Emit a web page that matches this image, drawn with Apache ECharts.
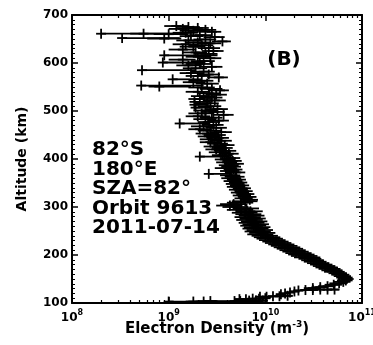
<!DOCTYPE html>
<html><head><meta charset="utf-8">
<script src="https://cdn.jsdelivr.net/npm/echarts@6/dist/echarts.min.js"></script>
<style>html,body{margin:0;padding:0;background:#fff}#c{width:373px;height:345px}</style>
</head><body><div id="c"></div>
<script>
// Altitude (km)
const altitude = [
 677,675,673,671,669,667,665,663,661,661,
 660,658,656,654,652,651,649,647,645,643,
 641,639,637,634,631,628,625,622,619,616,
 613,610,607,604,601,598,595,592,589,585,
 582,579,576,573,570,566,563,560,557,553,
 551,549,546,543,540,537,534,531,528,525,
 522,519,516,513,510,507,504,501,498,495,
 492,489,486,483,480,477,474,471,468,465,
 462,459,456,453,450,447,444,441,438,435,
 432,429,426,423,420,417,414,411,408,405,
 402,399,396,393,390,387,384,381,378,375,
 372,369,366,363,360,357,354,351,348,345,
 342,339,336,333,330,327,324,321,318,315,
 312,309,306,303,300,297,294,291,288,285,
 282,279,276,273,270,267,264,261,258,255,
 252,249,246,243,240,237,234,231,228,225,
 222,219,216,213,210,207,204,201,198,195,
 192,189,186,183,180,177,174,171,168,165,
 162,159,156,153,150,147,144,141,138,135,
 133,131,128,128,128,127,127,126,124,122,
 120,118,115,114,114,113,113,110,109,109,
 108,108,105,105,105,104,104,104,103,103,
 103];
// Electron density (units of 1e9 m^-3)
const densityE9 = [
 1.2,1.6,2.0,1.4,2.4,1.8,2.8,1.5,0.20,0.55,
 1.00,2.1,1.7,3.0,0.33,0.90,2.4,1.6,3.6,2.0,
 2.7,1.5,2.2,1.8,2.6,1.4,2.9,1.9,2.4,0.90,
 2.0,2.7,1.4,2.3,0.87,2.1,1.6,2.8,1.9,0.53,
 2.3,1.7,2.6,2.0,3.3,1.1,2.2,1.8,2.5,0.52,
 0.80,2.2,2.8,3.4,2.0,2.6,3.1,2.3,2.8,2.1,
 3.0,1.85,2.5,1.85,2.7,1.9,3.2,2.4,2.9,2.2,
 3.7,2.0,2.8,2.4,3.3,2.6,1.3,2.9,2.3,3.1,
 2.1,2.7,3.5,2.5,3.0,2.6,3.3,2.8,3.5,2.7,
 3.2,3.8,3.0,3.6,3.1,3.9,3.4,4.2,3.6,2.1,
 4.4,3.8,4.6,4.0,4.8,4.2,4.5,3.9,4.7,4.3,
 5.0,2.6,4.4,4.9,4.5,5.1,4.7,5.3,4.9,5.5,
 5.0,5.8,5.3,6.0,5.5,6.3,5.8,6.6,6.0,6.9,
 6.2,5.6,4.7,4.3,5.0,6.4,5.6,7.0,6.2,6.8,
 7.3,6.7,7.5,7.0,7.8,7.3,8.1,7.6,8.4,8.0,
 8.9,8.5,9.4,9.0,10.0,10.6,11.3,12.0,12.9,13.8,
 14.8,15.9,17.0,18.2,19.4,20.8,22.3,23.9,25.6,27.5,
 29.5,31.6,33.8,36.2,38.8,41.5,44.4,47.5,50.7,54.0,
 57.5,61.0,64.5,67.5,69.5,68.0,64.0,58.0,51.0,44.0,
 37.0,31.0,52.0,44.0,37.0,31.0,26.0,22.0,20.0,18.0,
 16.0,14.5,17.0,14.0,12.0,10.3,8.8,10.0,8.6,7.4,
 6.3,5.4,9.4,8.0,6.8,5.5,4.8,2.7,2.3,1.8,
 1.0];
// Error bar lower end (1e9 m^-3)
const errLowE9 = [
 0.9,1.2,1.5,1.0,1.8,1.3,2.1,1.1,0.20,0.40,
 0.70,1.6,1.3,2.3,0.33,0.60,1.8,1.2,2.8,1.5,
 2.0,1.1,1.6,1.3,2.0,1.0,2.2,1.4,1.8,0.90,
 1.5,2.0,1.0,1.7,0.87,1.5,1.2,2.1,1.4,0.53,
 1.7,1.3,2.0,1.5,2.5,1.1,1.6,1.4,1.9,0.52,
 0.62,1.6,2.1,2.6,1.5,2.0,2.4,1.7,2.1,1.6,
 2.3,1.85,1.9,1.85,2.0,1.9,2.4,1.8,2.2,1.6,
 2.9,1.5,2.1,1.8,2.5,2.0,1.3,2.2,1.7,2.4,
 1.6,2.0,2.7,1.9,2.3,2.0,2.5,2.1,2.7,2.1,
 2.5,2.9,2.3,2.8,2.4,3.0,2.6,3.3,2.8,2.1,
 3.4,3.0,3.6,3.1,3.8,3.3,3.5,3.0,3.7,3.4,
 3.9,2.6,3.4,3.8,3.5,4.0,3.7,4.2,3.9,4.3,
 4.0,4.6,4.2,4.8,4.4,5.0,4.6,5.2,4.8,5.5,
 4.5,4.0,3.4,3.1,3.6,4.6,4.0,5.0,4.5,4.9,
 5.3,4.8,5.4,5.0,5.6,5.3,5.8,5.5,6.0,5.8,
 6.4,6.1,6.8,6.5,7.2,7.6,8.1,8.6,9.3,9.9,
 10.7,11.4,12.2,13.1,14.0,15.0,16.1,17.2,18.4,19.8,
 22.0,23.5,25.0,27.0,29.0,31.0,33.0,35.5,38.0,40.5,
 45.0,48.0,51.0,54.0,56.0,55.0,51.0,46.0,41.0,35.0,
 30.0,25.0,46.0,39.0,33.0,27.5,23.0,19.5,17.7,15.9,
 14.1,12.8,15.0,12.4,10.6,9.1,7.8,8.8,7.6,6.5,
 5.6,4.8,8.3,7.1,6.0,4.6,2.0,2.3,1.9,1.5,
 1.0];
// Error bar upper end (1e9 m^-3)
const errHighE9 = [
 1.6,2.1,2.6,1.9,3.1,2.4,3.5,2.0,1.55,1.40,
 1.60,2.8,2.3,3.8,1.30,1.35,3.1,2.2,4.4,2.7,
 3.5,2.0,2.9,2.4,3.4,1.9,3.7,2.5,3.2,3.2,
 2.7,3.5,1.9,3.0,2.4,2.8,2.2,3.6,2.5,1.9,
 3.0,2.3,3.4,2.7,4.1,2.2,2.9,2.4,3.3,2.3,
 1.7,3.0,3.6,4.2,2.7,3.4,4.0,3.0,3.6,2.8,
 3.9,2.7,3.3,2.6,3.5,2.8,4.1,3.2,3.8,2.9,
 4.7,2.7,3.6,3.1,4.2,3.4,2.7,3.7,3.0,4.0,
 2.8,3.5,4.5,3.3,3.9,3.4,4.2,3.6,4.5,3.5,
 4.1,4.8,3.9,4.6,4.0,5.0,4.4,5.3,4.6,4.3,
 5.5,4.9,5.7,5.1,6.0,5.3,5.6,5.0,5.8,5.4,
 6.2,4.5,5.5,6.1,5.6,6.3,5.8,6.5,6.1,6.8,
 6.2,7.1,6.6,7.4,6.8,7.7,7.1,8.1,7.4,8.4,
 8.3,7.5,6.3,5.8,6.7,8.6,7.5,9.4,8.3,9.1,
 9.8,9.0,10.1,9.4,10.5,9.8,10.9,10.2,11.3,10.8,
 12.0,11.4,12.7,12.1,13.5,14.3,15.2,16.2,17.4,18.6,
 20.0,21.5,23.0,24.6,26.2,28.1,30.1,32.3,34.6,37.1,
 38.0,40.5,43.0,46.0,49.5,53.0,56.5,60.0,63.0,66.0,
 70.0,74.0,77.0,80.0,82.0,80.0,76.0,70.0,62.0,53.0,
 44.0,37.0,58.0,49.0,41.5,34.8,29.2,24.7,22.5,20.3,
 18.0,16.3,19.2,15.8,13.5,11.6,9.9,11.3,9.7,8.3,
 7.1,6.1,10.6,9.0,7.7,6.5,9.0,3.2,2.7,2.1,
 6.0];

const xMajorTicks = [1e8, 1e9, 1e10, 1e11];
const xTickExponents = ['8', '9', '10', '11'];
const yTickLabels = ['100','200','300','400','500','600','700'];
const annotationLines = ['82°S', '180°E', 'SZA=82°', 'Orbit 9613', '2011-07-14'];
const panelLabel = '(B)';

const xMinorTicks = [];
for (let d = 8; d < 11; d++) for (let m = 2; m <= 9; m++) xMinorTicks.push(m * Math.pow(10, d));

const points = altitude.map((a, i) => [densityE9[i] * 1e9, a, errLowE9[i] * 1e9, errHighE9[i] * 1e9]);

const FONT = 'DejaVu Sans';
const chart = echarts.init(document.getElementById('c'), null, {renderer: 'canvas'});
const grid = {left: 72, right: 11, top: 15, bottom: 42, containLabel: false, outerBoundsMode: 'none'};
const baseX = {type: 'log', logBase: 10, min: 1e8, max: 1e11, gridIndex: 0, splitLine: {show: false}};
const lineStyleAxis = {color: '#000', width: 2};
chart.setOption({
  animation: false,
  backgroundColor: '#fff',
  grid: grid,
  xAxis: [
    Object.assign({}, baseX, {
      position: 'bottom',
      axisLine: {show: true, lineStyle: lineStyleAxis},
      axisTick: {show: true, inside: true, length: 6, lineStyle: {color: '#000', width: 1.5}},
      axisLabel: {
        show: true, margin: 6, color: '#000',
        formatter: function (v) {
          const e = Math.round(Math.log10(v));
          const idx = xMajorTicks.findIndex(t => Math.round(Math.log10(t)) === e);
          return '{b|10}{s|' + xTickExponents[idx] + '}';
        },
        rich: {
          b: {fontFamily: FONT, fontWeight: 'bold', fontSize: 12, color: '#000'},
          s: {fontFamily: FONT, fontWeight: 'bold', fontSize: 8, color: '#000', padding: [0, 0, 10, 0]}
        }
      },
      name: '{a|Electron Density (m}{s|-3}{a|)}',
      nameLocation: 'middle', nameGap: 17, nameMoveOverlap: false,
      nameTextStyle: {
        rich: {
          a: {fontFamily: FONT, fontWeight: 'bold', fontSize: 15, color: '#000'},
          s: {fontFamily: FONT, fontWeight: 'bold', fontSize: 9, color: '#000', padding: [0, 0, 10, 0]}
        }
      }
    }),
    Object.assign({}, baseX, {
      position: 'bottom',
      axisLine: {show: false},
      axisTick: {show: true, inside: true, length: 3, customValues: xMinorTicks, lineStyle: {color: '#000', width: 1.2}},
      axisLabel: {show: false}
    }),
    Object.assign({}, baseX, {
      position: 'top',
      axisLine: {show: true, lineStyle: lineStyleAxis},
      axisTick: {show: true, inside: true, length: 6, lineStyle: {color: '#000', width: 1.5}},
      axisLabel: {show: false}
    }),
    Object.assign({}, baseX, {
      position: 'top',
      axisLine: {show: false},
      axisTick: {show: true, inside: true, length: 3, customValues: xMinorTicks, lineStyle: {color: '#000', width: 1.2}},
      axisLabel: {show: false}
    })
  ],
  yAxis: [
    {
      type: 'value', min: 100, max: 700, interval: 100, position: 'left',
      splitLine: {show: false},
      axisLine: {show: true, lineStyle: lineStyleAxis},
      axisTick: {show: true, inside: true, length: 6, lineStyle: {color: '#000', width: 1.5}},
      minorTick: {show: true, splitNumber: 10, length: 3, lineStyle: {color: '#000', width: 1}},
      axisLabel: {
        margin: 4, color: '#000', fontFamily: FONT, fontWeight: 'bold', fontSize: 12,
        formatter: function (v) { return yTickLabels[Math.round((v - 100) / 100)]; }
      },
      name: 'Altitude (km)', nameLocation: 'middle', nameGap: 43, nameRotate: 90, nameMoveOverlap: false,
      nameTextStyle: {fontFamily: FONT, fontWeight: 'bold', fontSize: 14, color: '#000'}
    },
    {
      type: 'value', min: 100, max: 700, interval: 100, position: 'right',
      splitLine: {show: false},
      axisLine: {show: true, lineStyle: lineStyleAxis},
      axisTick: {show: true, inside: true, length: 6, lineStyle: {color: '#000', width: 1.5}},
      minorTick: {show: true, splitNumber: 10, length: 3, lineStyle: {color: '#000', width: 1}},
      axisLabel: {show: false}
    }
  ],
  series: [{
    type: 'custom',
    xAxisIndex: 0, yAxisIndex: 0,
    data: points,
    encode: {x: 0, y: 1},
    clip: true,
    renderItem: function (params, api) {
      const y = api.value(1);
      const c = api.coord([api.value(0), y]);
      const lo = api.coord([api.value(2), y]);
      const hi = api.coord([api.value(3), y]);
      const s = 5;
      const st = {stroke: '#000', lineWidth: 1.8};
      return {type: 'group', children: [
        {type: 'line', shape: {x1: lo[0], y1: c[1], x2: hi[0], y2: c[1]}, style: st},
        {type: 'line', shape: {x1: c[0] - s, y1: c[1], x2: c[0] + s, y2: c[1]}, style: st},
        {type: 'line', shape: {x1: c[0], y1: c[1] - s, x2: c[0], y2: c[1] + s}, style: st}
      ]};
    }
  }],
  graphic: [
    {type: 'text', left: 92, top: 140, z: 10,
     style: {text: annotationLines.join('\n'), fill: '#000', font: 'bold 20px "DejaVu Sans"', lineHeight: 19.5}},
    {type: 'text', x: 284, y: 60, z: 10,
     style: {text: panelLabel, fill: '#000', font: 'bold 20px "DejaVu Sans"', textAlign: 'center', textVerticalAlign: 'middle'}}
  ]
});
</script></body></html>
